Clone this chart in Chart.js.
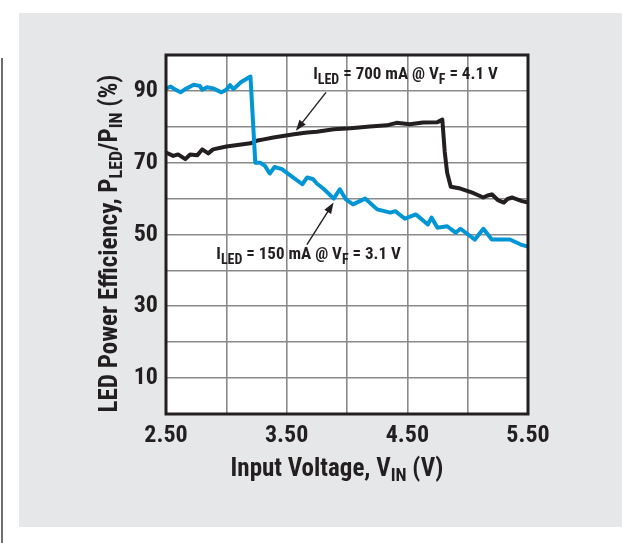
<!DOCTYPE html>
<html>
<head>
<meta charset="utf-8">
<script src="https://cdn.jsdelivr.net/npm/chart.js@4.4.1/dist/chart.umd.min.js"></script>
<style>
  html, body { margin: 0; padding: 0; background: #fff; }
  #wrap { position: relative; width: 637px; height: 543px; overflow: hidden; }
  #panel { position: absolute; left: 19px; top: 13px; width: 603px; height: 514px; background: #e6e7e8; }
  #rule { position: absolute; left: 1px; top: 58px; width: 2px; height: 485px; background: #6d6e70; }
  #chart { position: absolute; left: 0; top: 0; }
</style>
</head>
<body>
<div id="wrap">
  <div id="panel"></div>
  <div id="rule"></div>
  <canvas id="chart" width="637" height="543"></canvas>
</div>
<script>
const FONT = "'Roboto Condensed', 'Open Sans Condensed', sans-serif";
const INK = '#231f20';

// I_LED = 150 mA (blue)
const vin150 = [2.50, 2.54, 2.58, 2.62, 2.66, 2.73, 2.78, 2.80, 2.84, 2.89, 2.96, 3.00, 3.03, 3.06, 3.12, 3.20,
  3.24, 3.28, 3.32, 3.36, 3.40, 3.46, 3.53, 3.63, 3.67, 3.72, 3.75, 3.81, 3.89, 3.94, 3.99, 4.05, 4.15, 4.25,
  4.36, 4.40, 4.48, 4.57, 4.67, 4.70, 4.75, 4.83, 4.90, 4.94, 5.06, 5.13, 5.20, 5.35, 5.44, 5.50];
const eff150 = [90.7, 91.2, 90.3, 89.6, 90.5, 91.7, 91.4, 90.3, 91.0, 90.7, 89.6, 90.3, 91.6, 90.5, 92.4, 94.0,
  70.0, 70.0, 69.1, 67.0, 68.8, 68.2, 66.5, 64.0, 65.9, 65.4, 64.2, 62.6, 60.0, 62.6, 59.8, 58.4, 60.0, 57.0,
  56.1, 56.5, 54.4, 55.6, 52.8, 54.7, 51.9, 52.3, 50.5, 51.6, 48.6, 51.6, 48.6, 48.6, 47.2, 46.6];

// I_LED = 700 mA (black)
const vin700 = [2.50, 2.56, 2.60, 2.66, 2.70, 2.76, 2.80, 2.85, 2.89, 3.00, 3.20, 3.26, 3.31, 3.39, 3.56, 3.67,
  3.75, 3.89, 4.03, 4.19, 4.33, 4.41, 4.52, 4.63, 4.75, 4.79, 4.81, 4.83, 4.86, 4.94, 5.05, 5.13, 5.16, 5.20,
  5.25, 5.30, 5.33, 5.37, 5.45, 5.50];
const eff700 = [72.8, 71.9, 72.3, 71.0, 72.3, 72.1, 73.7, 72.6, 73.7, 74.5, 75.4, 76.2, 76.5, 77.0, 77.9, 78.4,
  78.6, 79.3, 79.6, 80.1, 80.4, 81.1, 80.7, 81.2, 81.3, 82.0, 73.0, 67.2, 63.3, 62.8, 61.5, 60.3, 60.8, 61.2,
  59.6, 58.9, 59.9, 60.3, 59.3, 58.9];

const xTickLabels = ['2.50', '3.50', '4.50', '5.50'];
const yTickLabels = [10, 30, 50, 70, 90];

function toPoints(xs, ys) {
  return xs.map((x, i) => ({ x: x, y: ys[i] }));
}

// text with subscript pieces: [text, isSub]
function richWidth(ctx, parts, size, subSize) {
  let w = 0;
  parts.forEach(p => {
    ctx.font = `bold ${p[1] ? subSize : size}px ${FONT}`;
    w += ctx.measureText(p[0]).width;
  });
  return w;
}

function drawRich(ctx, parts, x, y, size, subSize, subDrop) {
  ctx.textAlign = 'left';
  ctx.textBaseline = 'alphabetic';
  parts.forEach(p => {
    ctx.font = `bold ${p[1] ? subSize : size}px ${FONT}`;
    ctx.fillText(p[0], x, p[1] ? y + subDrop : y);
    x += ctx.measureText(p[0]).width;
  });
}

function arrow(ctx, x1, y1, x2, y2) {
  const a = Math.atan2(y2 - y1, x2 - x1);
  const len = 11, half = 4;
  ctx.strokeStyle = INK;
  ctx.fillStyle = INK;
  ctx.lineWidth = 1.4;
  ctx.beginPath();
  ctx.moveTo(x1, y1);
  ctx.lineTo(x2 - Math.cos(a) * len * 0.8, y2 - Math.sin(a) * len * 0.8);
  ctx.stroke();
  ctx.beginPath();
  ctx.moveTo(x2, y2);
  ctx.lineTo(x2 - Math.cos(a) * len + Math.sin(a) * half, y2 - Math.sin(a) * len - Math.cos(a) * half);
  ctx.lineTo(x2 - Math.cos(a) * len - Math.sin(a) * half, y2 - Math.sin(a) * len + Math.cos(a) * half);
  ctx.closePath();
  ctx.fill();
}

const framePlugin = {
  id: 'frame',
  beforeDraw(chart) {
    const { ctx, chartArea: a } = chart;
    ctx.save();
    ctx.fillStyle = '#ffffff';
    ctx.fillRect(a.left, a.top, a.right - a.left, a.bottom - a.top);
    ctx.restore();
  },
  afterDatasetsDraw(chart) {
    const { ctx, chartArea: a, scales } = chart;
    const xs = scales.x, ys = scales.y;
    ctx.save();
    ctx.strokeStyle = INK;
    ctx.lineWidth = 3;
    ctx.strokeRect(a.left, a.top, a.right - a.left, a.bottom - a.top);

    // annotations
    ctx.fillStyle = INK;
    drawRich(ctx, [['I', false], ['LED', true], [' = 700 mA @ V', false], ['F', true], [' = 4.1 V', false]],
      xs.getPixelForValue(3.72), ys.getPixelForValue(93.3), 17, 14, 5);
    arrow(ctx, xs.getPixelForValue(3.826), ys.getPixelForValue(89.6),
      xs.getPixelForValue(3.576), ys.getPixelForValue(78.9));
    ctx.fillStyle = INK;
    drawRich(ctx, [['I', false], ['LED', true], [' = 150 mA @ V', false], ['F', true], [' = 3.1 V', false]],
      xs.getPixelForValue(2.917), ys.getPixelForValue(43.2), 17, 14, 5);
    arrow(ctx, xs.getPixelForValue(3.668), ys.getPixelForValue(47.2),
      xs.getPixelForValue(3.889), ys.getPixelForValue(58.9));

    // axis titles
    ctx.fillStyle = INK;
    const xt = [['Input Voltage, V', false], ['IN', true], [' (V)', false]];
    const xw = richWidth(ctx, xt, 25, 18);
    drawRich(ctx, xt, 337 - xw / 2, 476, 25, 18, 5);

    const yt = [['LED Power Efficiency, P', false], ['LED', true], ['/P', false], ['IN', true], [' (%)', false]];
    const yw = richWidth(ctx, yt, 25, 18);
    ctx.translate(117, 243.5);
    ctx.rotate(-Math.PI / 2);
    drawRich(ctx, yt, -yw / 2, 0, 25, 18, 5);
    ctx.restore();
  }
};

new Chart(document.getElementById('chart'), {
  type: 'line',
  data: {
    datasets: [
      {
        label: 'ILED = 150 mA @ VF = 3.1 V',
        data: toPoints(vin150, eff150),
        borderColor: '#0096d6',
        borderWidth: 4,
        pointRadius: 0,
        tension: 0,
        borderJoinStyle: 'round',
        borderCapStyle: 'round',
        fill: false
      },
      {
        label: 'ILED = 700 mA @ VF = 4.1 V',
        data: toPoints(vin700, eff700),
        borderColor: '#231f20',
        borderWidth: 4,
        pointRadius: 0,
        tension: 0,
        borderJoinStyle: 'round',
        borderCapStyle: 'round',
        fill: false
      }
    ]
  },
  options: {
    responsive: false,
    animation: false,
    devicePixelRatio: 1,
    layout: { padding: { left: 0, top: 55, right: 109, bottom: 0 } },
    plugins: {
      legend: { display: false },
      tooltip: { enabled: false }
    },
    scales: {
      x: {
        type: 'linear',
        min: 2.5,
        max: 5.5,
        afterFit(scale) { scale.height = 129; },
        grid: { color: '#8a8a8a', lineWidth: 1.6, drawTicks: false },
        border: { display: false },
        ticks: {
          stepSize: 0.5,
          autoSkip: false,
          maxRotation: 0,
          padding: 8,
          color: INK,
          font: { family: FONT, size: 24, weight: 'bold' },
          callback: v => xTickLabels.includes(v.toFixed(2)) ? v.toFixed(2) : ''
        }
      },
      y: {
        min: 0,
        max: 100,
        afterFit(scale) { scale.width = 166; },
        grid: { color: '#8a8a8a', lineWidth: 1.6, drawTicks: false },
        border: { display: false },
        ticks: {
          stepSize: 10,
          padding: 8,
          color: INK,
          font: { family: FONT, size: 24, weight: 'bold' },
          callback: v => yTickLabels.includes(v) ? String(v) : ''
        }
      }
    }
  },
  plugins: [framePlugin]
});
</script>
</body>
</html>
